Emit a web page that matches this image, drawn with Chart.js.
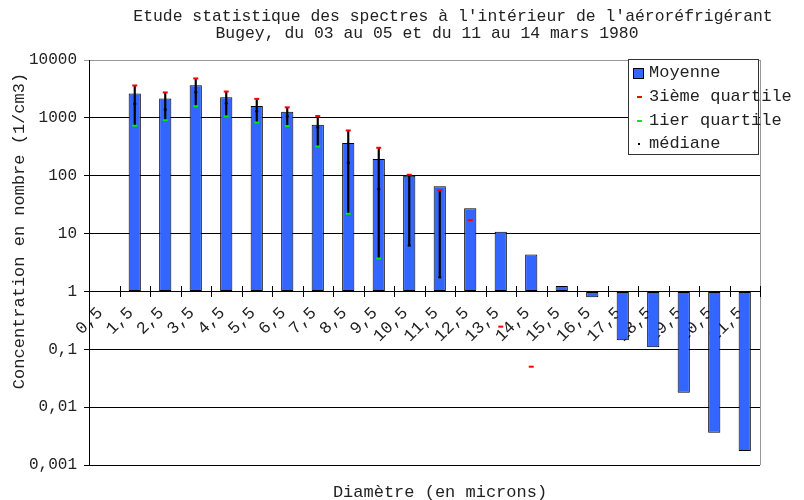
<!DOCTYPE html>
<html>
<head>
<meta charset="utf-8">
<script src="https://cdn.jsdelivr.net/npm/chart.js@4/dist/chart.umd.min.js"></script>
<style>
  html, body { margin: 0; padding: 0; background: #fff; }
  #wrap { position: relative; width: 804px; height: 500px; }
  #legend {
    position: absolute; left: 628px; top: 59px; width: 129px; height: 94px;
    border: 1px solid #333; background: #fff;
    font: 17px "Liberation Mono", "Courier New", monospace; color: #222;
  }
  #legend .row { position: absolute; left: 0; height: 24px; line-height: 24px; white-space: nowrap; }
  #legend .txt { position: absolute; left: 20px; top: 0; }
  #legend .mk { position: absolute; }
</style>
</head>
<body>
<div id="wrap">
  <canvas id="spectreChart" width="804" height="500"></canvas>
  <div id="legend">
    <div class="row" style="top:1px"><span class="mk" style="left:4px;top:7px;width:9px;height:9px;background:#3366ff;border:1px solid #000"></span><span class="txt">Moyenne</span></div>
    <div class="row" style="top:25px"><span class="mk" style="left:8px;top:11px;width:5px;height:2px;background:#ff0000"></span><span class="txt">3ième quartile</span></div>
    <div class="row" style="top:49px"><span class="mk" style="left:8px;top:11px;width:5px;height:2px;background:#00ee00"></span><span class="txt">1ier quartile</span></div>
    <div class="row" style="top:72px"><span class="mk" style="left:9px;top:11px;width:2px;height:2px;background:#000"></span><span class="txt">médiane</span></div>
  </div>
</div>
<script>
// --- Data ---
const categories = ['0,5', '1,5', '2,5', '3,5', '4,5', '5,5', '6,5', '7,5', '8,5', '9,5', '10,5',
    '11,5', '12,5', '13,5', '14,5', '15,5', '16,5', '17,5', '18,5', '19,5', '20,5', '21,5'];
const moyenne = [null, 2630, 2150, 3670, 2280, 1610, 1280, 760, 366, 195, 100,
    66, 27.5, 10.8, 4.35, 1.24, 0.79, 0.143, 0.108, 0.0178, 0.0036, 0.00175];
const quartile3 = [null, 3630, 2750, 4800, 2850, 2130, 1520, 1075, 605, 304, 104,
    56, 17, 0.246, 0.05, null, null, null, null, null, null, null];
const quartile1 = [null, 730, 910, 1590, 1060, 830, 720, 320, 22, 3.7, null,
    null, null, null, null, null, null, null, null, null, null, null];
const mediane = [null, 1745, 1390, 2770, 1790, 1300, 1060, 684, 168, 59, 6.2,
    1.75, null, null, null, null, null, null, null, null, null, null];
const yTickValues = [0.001, 0.01, 0.1, 1, 10, 100, 1000, 10000];
const yTickLabels = ['0,001', '0,01', '0,1', '1', '10', '100', '1000', '10000'];

const titleLines = ["Etude statistique des spectres à l'intérieur de l'aéroréfrigérant",
    'Bugey, du 03 au 05 et du 11 au 14 mars 1980'];
const xTitle = 'Diamètre (en microns)';
const yTitle = 'Concentration en nombre (1/cm3)';

const MONO = '"Liberation Mono", "Courier New", monospace';

// high-low line spanning the quartile / median markers of each category
const hiLo = categories.map((_, i) => {
    const vals = [quartile3[i], quartile1[i], mediane[i]].filter(v => v != null);
    return vals.length < 2 ? null : [Math.min(...vals), Math.max(...vals)];
});

// --- Extra drawing: titles, crossing ticks, plot border ---
const decorPlugin = {
    id: 'decor',
    afterDraw(chart) {
        const { ctx, chartArea, scales: { x, y } } = chart;
        ctx.save();
        ctx.lineWidth = 1;
        ctx.strokeStyle = '#999';
        ctx.beginPath();
        ctx.moveTo(chartArea.right + 0.5, chartArea.top);
        ctx.lineTo(chartArea.right + 0.5, chartArea.bottom);
        ctx.stroke();

        const y1 = Math.round(y.getPixelForValue(1)) + 0.5;
        ctx.strokeStyle = '#000';
        ctx.beginPath();
        for (let i = 1; i <= categories.length; i++) {
            const px = Math.round(x.getPixelForValue(i - 0.5)) + 0.5;
            ctx.moveTo(px, y1 - 5.5);
            ctx.lineTo(px, y1 + 5.5);
        }
        ctx.stroke();

        ctx.fillStyle = '#222';
        ctx.textAlign = 'center';
        ctx.textBaseline = 'alphabetic';
        ctx.font = '16.4px ' + MONO;
        ctx.fillText(titleLines[0], 453, 21);
        ctx.fillText(titleLines[1], 427, 38);
        ctx.font = '17px ' + MONO;
        ctx.fillText(xTitle, 440, 497);
        ctx.translate(24, 231);
        ctx.rotate(-Math.PI / 2);
        ctx.fillText(yTitle, 0, 0);
        ctx.restore();
    }
};

const pointSet = (label, data, color, radius, order) => ({
    type: 'line', label, data, order,
    showLine: false,
    pointStyle: 'line',
    pointRadius: radius,
    pointBorderWidth: 2,
    pointBorderColor: color,
    pointBackgroundColor: color,
    borderColor: color
});

const ctx = document.getElementById('spectreChart').getContext('2d');
new Chart(ctx, {
    type: 'bar',
    data: {
        labels: categories,
        datasets: [
            {
                label: 'Moyenne', data: moyenne, order: 4,
                base: 1,
                backgroundColor: '#3366ff',
                borderColor: '#000',
                borderWidth: 1,
                borderSkipped: false,
                grouped: false,
                barPercentage: 0.4,
                categoryPercentage: 1
            },
            pointSet('3ième quartile', quartile3, '#ff0000', 2.5, 1),
            pointSet('1ier quartile', quartile1, '#00ee00', 2.5, 2),
            pointSet('médiane', mediane, '#000', 1.5, 0),
            {
                label: 'hilo', data: hiLo, order: 3,
                backgroundColor: '#000',
                borderWidth: 0,
                barThickness: 1.5,
                grouped: false
            }
        ]
    },
    options: {
        responsive: false,
        animation: false,
        events: [],
        layout: { padding: { top: 60, right: 44, bottom: 35, left: 0 } },
        plugins: {
            legend: { display: false },
            tooltip: { enabled: false },
            title: { display: false }
        },
        scales: {
            x: {
                type: 'category',
                position: { y: 1 },
                offset: true,
                grid: { display: false },
                border: { display: false },
                ticks: {
                    autoSkip: false,
                    minRotation: 45,
                    maxRotation: 45,
                    padding: 6,
                    labelOffset: -4,
                    color: '#222',
                    font: { family: MONO, size: 17, lineHeight: 0.8 }
                }
            },
            y: {
                type: 'logarithmic',
                min: 0.001,
                max: 10000,
                afterBuildTicks: s => { s.ticks = yTickValues.map(v => ({ value: v })); },
                afterFit: s => { s.width = 89; },
                ticks: {
                    autoSkip: false,
                    padding: 7,
                    color: '#222',
                    font: { family: MONO, size: 16 },
                    callback: (v, i) => yTickLabels[i]
                },
                grid: {
                    color: c => (c.tick && c.tick.value === 10000 ? '#999' : '#000'),
                    tickLength: 5,
                    lineWidth: 1
                },
                border: { color: '#000' }
            }
        }
    },
    plugins: [decorPlugin]
});
</script>
</body>
</html>
